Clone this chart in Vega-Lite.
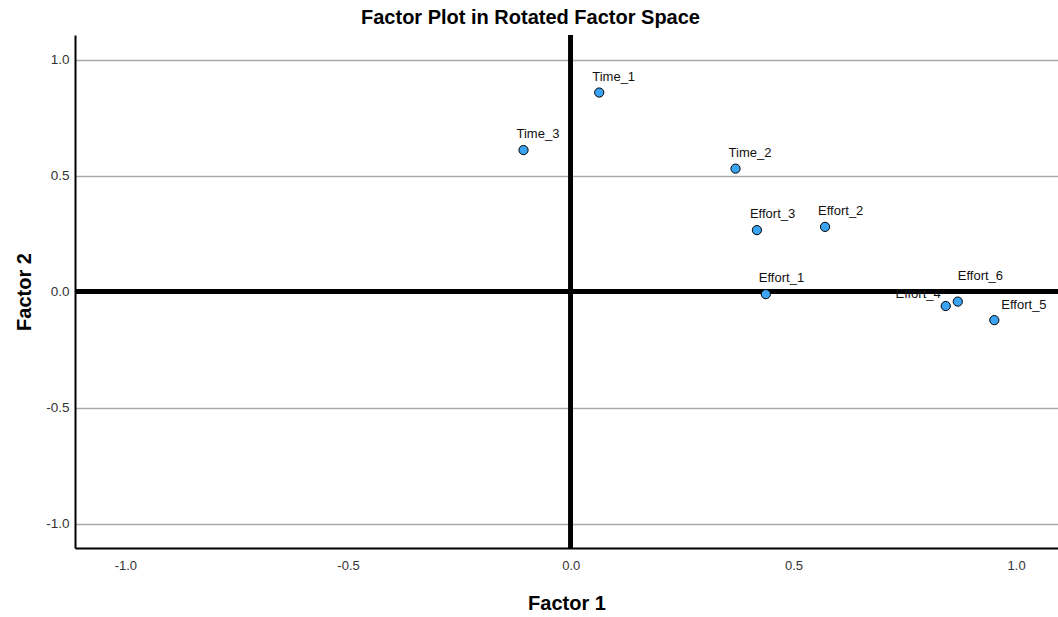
{
  "$schema": "https://vega.github.io/schema/vega-lite/v6.json",
  "width": 983,
  "height": 513,
  "autosize": {"type": "none"},
  "padding": {"left": 75, "top": 35, "right": 0, "bottom": 69},
  "background": "white",
  "config": {
    "view": {"stroke": null},
    "font": "Liberation Sans"
  },
  "title": {
    "text": "Factor Plot in Rotated Factor Space",
    "fontSize": 20,
    "fontWeight": "bold",
    "font": "Liberation Sans",
    "color": "#000000",
    "anchor": "middle",
    "dx": -36,
    "offset": 5
  },
  "data": {
    "values": [
      {"label": "Time_1", "f1": 0.064, "f2": 0.858},
      {"label": "Time_2", "f1": 0.370, "f2": 0.530},
      {"label": "Time_3", "f1": -0.106, "f2": 0.610},
      {"label": "Effort_1", "f1": 0.438, "f2": -0.011},
      {"label": "Effort_2", "f1": 0.571, "f2": 0.279},
      {"label": "Effort_3", "f1": 0.418, "f2": 0.265},
      {"label": "Effort_4", "f1": 0.842, "f2": -0.062},
      {"label": "Effort_5", "f1": 0.951, "f2": -0.123},
      {"label": "Effort_6", "f1": 0.869, "f2": -0.043}
    ]
  },
  "encoding": {
    "x": {
      "field": "f1", "type": "quantitative",
      "scale": {"domain": [-1.113, 1.094], "nice": false, "zero": false},
      "axis": {
        "title": "Factor 1", "values": [-1, -0.5, 0, 0.5, 1],
        "labelExpr": "replace(format(datum.value, '.1f'), '\u2212', '-')",
        "grid": false, "ticks": false, "domainColor": "#000000", "domainWidth": 2,
        "labelFontSize": 13, "labelColor": "#333333", "labelPadding": 11,
        "titleFontSize": 20, "titleFontWeight": "bold", "titleColor": "#000000", "titlePadding": 21
      }
    },
    "y": {
      "field": "f2", "type": "quantitative",
      "scale": {"domain": [-1.105, 1.106], "nice": false, "zero": false},
      "axis": {
        "title": "Factor 2", "values": [-1, -0.5, 0, 0.5, 1],
        "labelExpr": "replace(format(datum.value, '.1f'), '\u2212', '-')",
        "grid": true, "gridColor": "#aaaaaa", "gridWidth": 1.5,
        "ticks": false, "domainColor": "#000000", "domainWidth": 2,
        "labelFontSize": 13.5, "labelColor": "#333333", "labelPadding": 6,
        "titleFontSize": 20, "titleFontWeight": "bold", "titleColor": "#000000", "titlePadding": 11
      }
    }
  },
  "layer": [
    {
      "mark": {"type": "rule", "color": "#000000", "strokeWidth": 4},
      "encoding": {"x": {"datum": 0}, "y": null}
    },
    {
      "mark": {"type": "rule", "color": "#000000", "strokeWidth": 4},
      "encoding": {"y": {"datum": 0}, "x": null}
    },
    {
      "mark": {"type": "point", "filled": true, "shape": "circle", "size": 85, "fill": "#3aa3f2", "stroke": "#000000", "strokeWidth": 1, "opacity": 1}
    },
    {
      "transform": [{"filter": "datum.label !== 'Effort_4' && datum.label !== 'Effort_6' && datum.label !== 'Effort_5'"}],
      "mark": {"type": "text", "align": "left", "baseline": "middle", "dx": -7, "dy": -16, "fontSize": 13, "color": "#111111"},
      "encoding": {"text": {"field": "label"}}
    },
    {
      "transform": [{"filter": "datum.label === 'Effort_5'"}],
      "mark": {"type": "text", "align": "left", "baseline": "middle", "dx": 7, "dy": -15, "fontSize": 13, "color": "#111111"},
      "encoding": {"text": {"field": "label"}}
    },
    {
      "transform": [{"filter": "datum.label === 'Effort_6'"}],
      "mark": {"type": "text", "align": "left", "baseline": "middle", "dx": 0, "dy": -26, "fontSize": 13, "color": "#111111"},
      "encoding": {"text": {"field": "label"}}
    },
    {
      "transform": [{"filter": "datum.label === 'Effort_4'"}],
      "mark": {"type": "text", "align": "right", "baseline": "middle", "dx": -5, "dy": -12, "fontSize": 13, "color": "#111111"},
      "encoding": {"text": {"field": "label"}}
    }
  ]
}
